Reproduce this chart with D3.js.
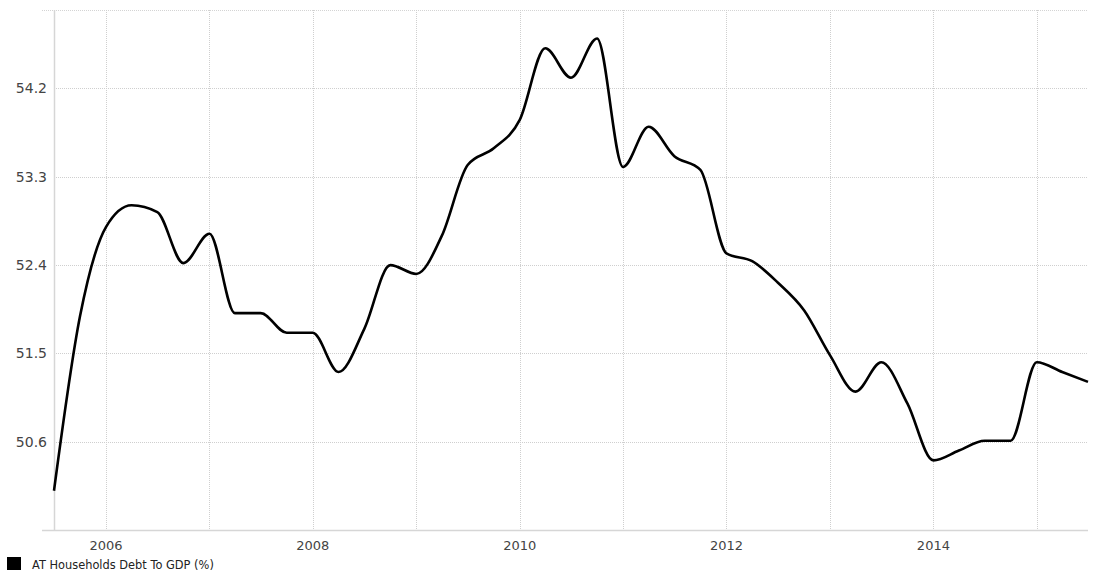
<!DOCTYPE html>
<html>
<head>
<meta charset="utf-8">
<script src="https://cdn.jsdelivr.net/npm/d3@7"></script>
<style>
body{margin:0;background:#fff;}
text{font-family:"DejaVu Sans",sans-serif;}
</style>
</head>
<body>
<div id="chart"></div>
<script>
// quarterly dates
var dates=["2005-07","2005-10","2006-01","2006-04","2006-07","2006-10","2007-01","2007-04","2007-07","2007-10",
"2008-01","2008-04","2008-07","2008-10","2009-01","2009-04","2009-07","2009-10","2010-01","2010-04",
"2010-07","2010-10","2011-01","2011-04","2011-07","2011-10","2012-01","2012-04","2012-07","2012-10",
"2013-01","2013-04","2013-07","2013-10","2014-01","2014-04","2014-07","2014-10","2015-01","2015-04","2015-07"];
// AT households debt to GDP (%)
var values=[50.10,51.88,52.79,53.01,52.94,52.42,52.72,51.91,51.91,51.71,
51.71,51.31,51.75,52.40,52.31,52.70,53.42,53.59,53.88,54.61,
54.31,54.71,53.40,53.81,53.51,53.37,52.52,52.44,52.22,51.94,
51.48,51.11,51.41,50.99,50.41,50.51,50.61,50.61,51.41,51.31,51.21];
var yTicks=[50.6,51.5,52.4,53.3,54.2];
var xTicks=[2006,2007,2008,2009,2010,2011,2012,2013,2014,2015];
var xLabels=[2006,2008,2010,2012,2014];
var seriesName="AT Households Debt To GDP (%)";

var width=1097,height=575;
var pLeft=54,pRight=1088,pTop=10,pBottom=530;

var parse=d3.timeParse("%Y-%m");
var data=dates.map(function(d,i){return {date:parse(d),v:values[i]};});

var x=d3.scaleTime().domain([parse("2005-07"),parse("2015-07")]).range([pLeft,pRight]);
var y=d3.scaleLinear().domain([49.7,55.0]).range([pBottom,pTop]);

var svg=d3.select("#chart").append("svg").attr("width",width).attr("height",height);

// top line
svg.append("line").attr("x1",42).attr("x2",pRight).attr("y1",pTop+0.5).attr("y2",pTop+0.5)
	.attr("stroke","#d4d4d4").attr("stroke-dasharray","1,1");

// horizontal grid
svg.append("g").selectAll("line").data(yTicks).enter().append("line")
	.attr("x1",pLeft).attr("x2",pRight)
	.attr("y1",function(d){return Math.round(y(d))+0.5;})
	.attr("y2",function(d){return Math.round(y(d))+0.5;})
	.attr("stroke","#cfcfcf").attr("stroke-dasharray","1,1");

// vertical grid
svg.append("g").selectAll("line").data(xTicks).enter().append("line")
	.attr("x1",function(d){return Math.round(x(new Date(d,0,1)))+0.5;})
	.attr("x2",function(d){return Math.round(x(new Date(d,0,1)))+0.5;})
	.attr("y1",pTop).attr("y2",pBottom)
	.attr("stroke","#cfcfcf").attr("stroke-dasharray","1,1");

// axis lines
svg.append("line").attr("x1",pLeft+0.5).attr("x2",pLeft+0.5).attr("y1",pTop).attr("y2",pBottom)
	.attr("stroke","#d6d6d6").attr("stroke-width",1.5);
svg.append("line").attr("x1",42).attr("x2",pRight).attr("y1",pBottom+0.5).attr("y2",pBottom+0.5)
	.attr("stroke","#d6d6d6").attr("stroke-width",1.5);

// y labels
svg.append("g").selectAll("text").data(yTicks).enter().append("text")
	.attr("x",47).attr("y",function(d){return y(d)+5;})
	.attr("text-anchor","end").attr("font-size",14).attr("fill","#444")
	.text(function(d){return d.toFixed(1);});

// x labels
svg.append("g").selectAll("text").data(xLabels).enter().append("text")
	.attr("x",function(d){return x(new Date(d,0,1));}).attr("y",550)
	.attr("text-anchor","middle").attr("font-size",13).attr("fill","#444")
	.text(function(d){return d;});

// line
var line=d3.line().x(function(d){return x(d.date);}).y(function(d){return y(d.v);})
	.curve(d3.curveMonotoneX);
svg.append("path").datum(data).attr("d",line)
	.attr("fill","none").attr("stroke","#000").attr("stroke-width",2.6)
	.attr("stroke-linejoin","round");

// legend
svg.append("rect").attr("x",7).attr("y",557).attr("width",14).attr("height",13).attr("fill","#000");
svg.append("text").attr("x",32).attr("y",569).attr("font-size",11.4).attr("fill","#222").text(seriesName);
</script>
</body>
</html>
